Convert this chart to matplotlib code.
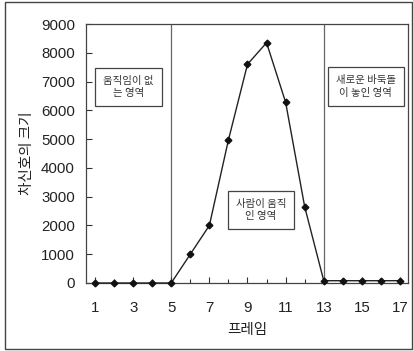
import matplotlib as mpl
mpl.use('agg')
import matplotlib.pyplot as plt
from matplotlib.patches import Rectangle
import numpy as np

plt.rcParams['font.family'] = ['Liberation Sans', 'Noto Sans CJK KR']

# data
frames = [1, 2, 3, 4, 5, 6, 7, 8, 9, 10, 11, 12, 13, 14, 15, 16, 17]
diff_size = [0, 0, 0, 0, 0, 1000, 2000, 4970, 7600, 8350, 6280, 2650, 80, 80, 80, 80, 80]
region_edges = [5, 13]
xticks = [1, 3, 5, 7, 9, 11, 13, 15, 17]
yticks = [0, 1000, 2000, 3000, 4000, 5000, 6000, 7000, 8000, 9000]
region_labels = ['움직임이 없\n는 영역', '사람이 움직\n인 영역', '새로운 바둑돌\n이 놓인 영역']
region_label_pos = [(2.76, 6810), (9.71, 2540), (15.2, 6830)]

fig = plt.figure(figsize=(4.14, 3.51), dpi=100)
ax = fig.add_axes([86/414, 1-283/351, (408-86)/414, (283-24)/351])

# outer frame round the whole figure
fig.patches.append(Rectangle((5/414, 2/351), 407/414, 347/351, transform=fig.transFigure,
                             fill=False, ec='#444444', lw=1.0))

for e in region_edges:
    ax.axvline(e, color='#666666', lw=0.9, zorder=1)

ax.plot(frames, diff_size, color='#222222', lw=1.0, marker='D', ms=3.4,
        mfc='#111111', mec='#111111', zorder=3, clip_on=False)

for txt, (x, y) in zip(region_labels, region_label_pos):
    ax.text(x, y, txt, ha='center', va='center', fontsize=7.5, color='#333333',
            family=['Noto Sans CJK KR'], linespacing=1.35,
            bbox=dict(boxstyle='square,pad=0.75', fc='white', ec='#444444', lw=0.9))

ax.set_xlim(0.528, 17.42)
ax.set_ylim(0, 9000)
ax.set_xticks(xticks)
ax.set_xticks(frames, minor=True)
ax.set_yticks(yticks)
ax.tick_params(direction='in', length=4, width=0.8, colors='#333333', labelsize=10.8,
               labelcolor='#222222')
ax.tick_params(axis='x', which='minor', direction='in', length=3, width=0.8, colors='#333333')
ax.tick_params(axis='x', pad=13)
ax.tick_params(axis='y', pad=8)

ax.set_xlabel('프레임', fontsize=10.5, family=['Noto Sans CJK KR'], color='#222222', labelpad=6)
ax.set_ylabel('차신호의 크기', fontsize=10.5, family=['Noto Sans CJK KR'], color='#222222', labelpad=5)

for s in ax.spines.values():
    s.set_color('#444444')
    s.set_linewidth(0.9)

plt.savefig('out.png', dpi=100)
plt.close(fig)
